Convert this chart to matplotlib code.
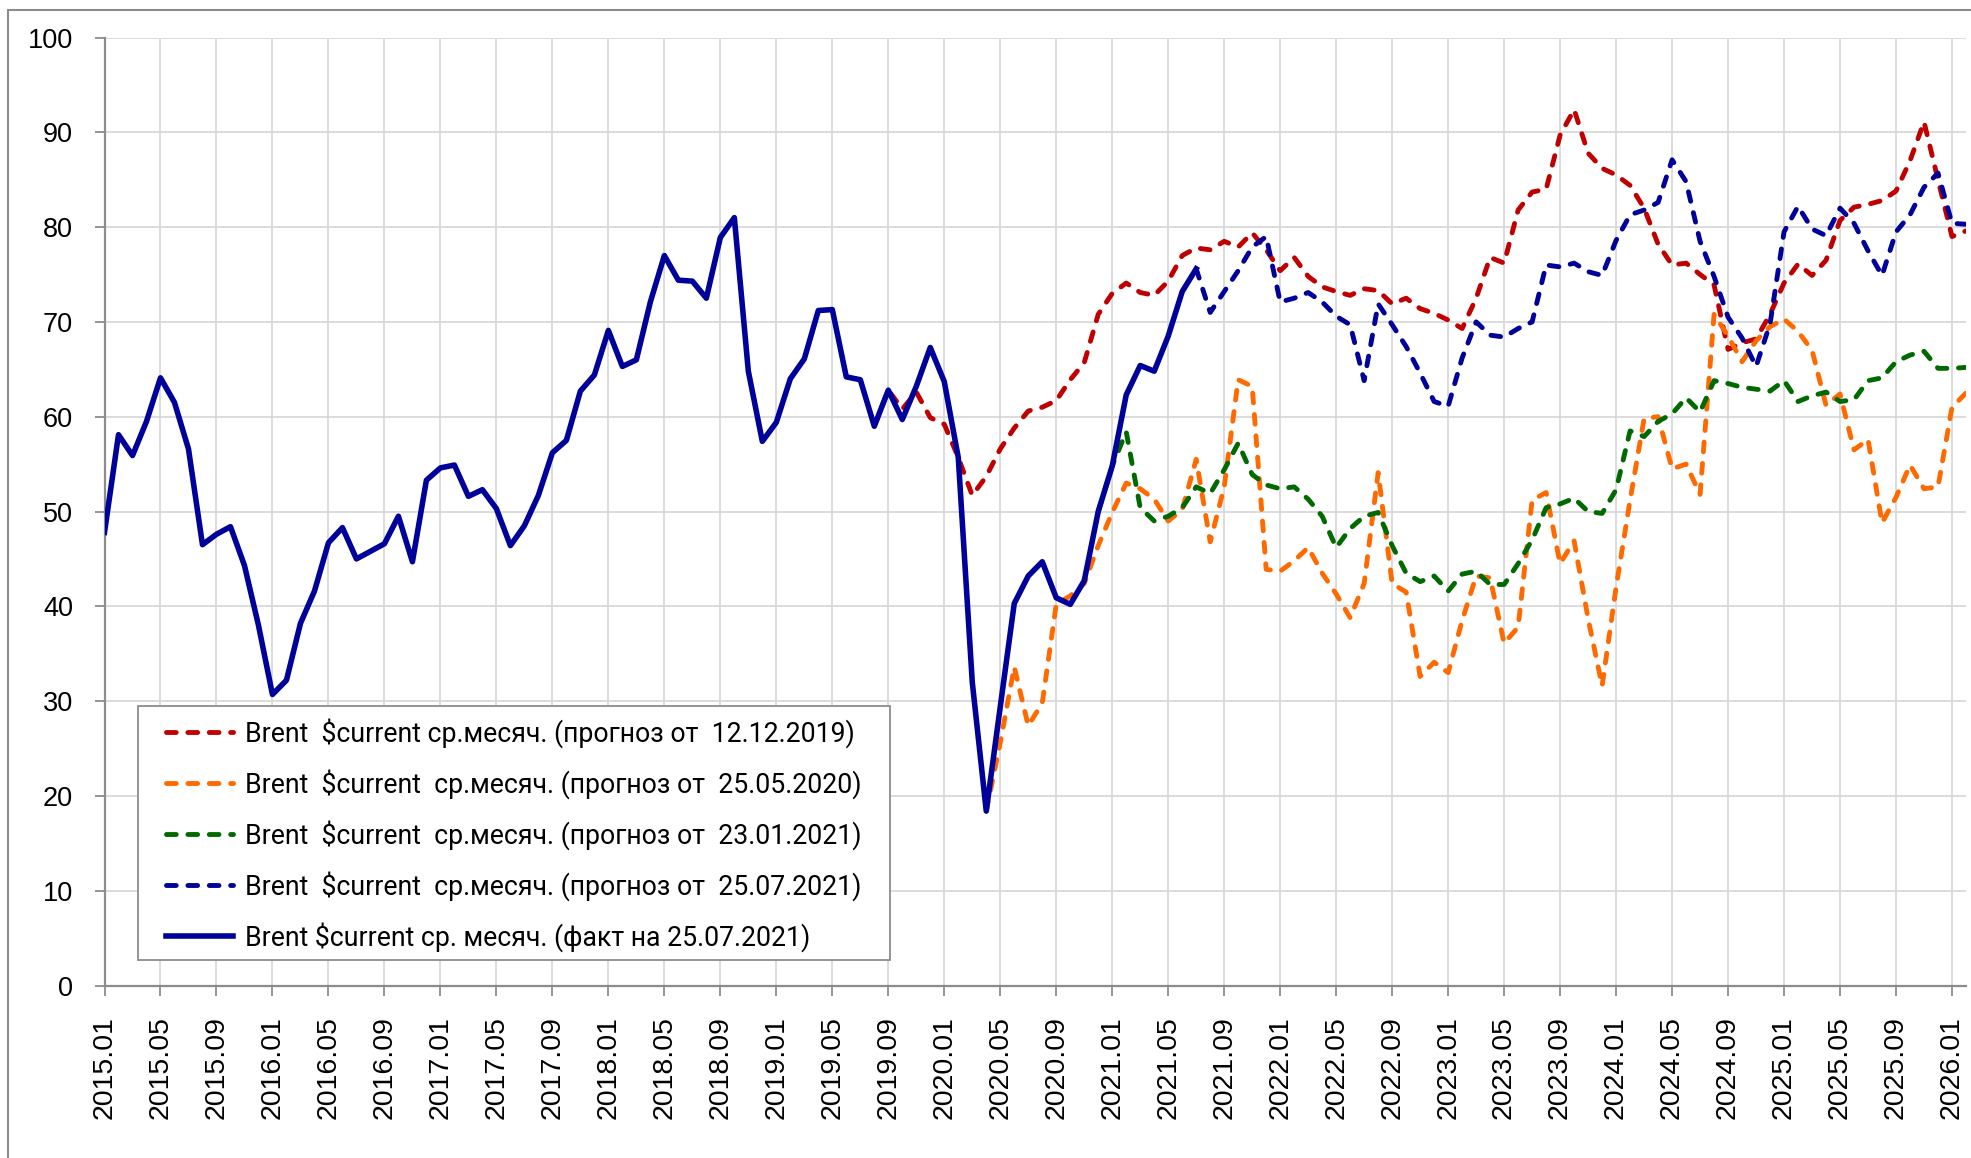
import matplotlib
matplotlib.use("Agg")
import matplotlib.pyplot as plt
from matplotlib.patches import Rectangle
from matplotlib.lines import Line2D

# ---------------- data ----------------
months = [f"{2015 + i // 12}.{i % 12 + 1:02d}" for i in range(134)]  # 2015.01 .. 2026.02

# Brent $current monthly average, fact (2015.01 - 2021.07)
fact = [47.8, 58.1, 55.9, 59.5, 64.1, 61.5, 56.6, 46.5, 47.6, 48.4, 44.3, 38.0,
        30.7, 32.2, 38.2, 41.6, 46.7, 48.3, 45.0, 45.8, 46.6, 49.5, 44.7, 53.3,
        54.6, 54.9, 51.6, 52.3, 50.3, 46.4, 48.5, 51.7, 56.2, 57.5, 62.7, 64.4,
        69.1, 65.3, 66.0, 72.1, 77.0, 74.4, 74.3, 72.5, 78.9, 81.0, 64.8, 57.4,
        59.4, 64.0, 66.1, 71.2, 71.3, 64.2, 63.9, 59.0, 62.8, 59.7, 63.2, 67.3,
        63.7, 55.7, 32.0, 18.4, 29.4, 40.3, 43.2, 44.7, 40.9, 40.2, 42.7, 50.0,
        54.8, 62.3, 65.4, 64.8, 68.5, 73.2, 75.6]
fact_start = "2015.01"

# forecast of 12.12.2019 (starts 2019.08)
fc_2019_start = "2019.08"
fc_2019 = [59.0, 62.8, 60.8, 62.6, 59.9, 59.2, 55.7, 51.7, 53.7, 56.6, 58.8, 60.6,
           61.0, 61.7, 63.9, 65.7, 70.8, 73.0, 74.1, 73.1, 72.8, 74.3, 77.0, 77.8,
           77.6, 78.5, 77.9, 79.4, 77.6, 75.4, 76.8, 74.8, 73.7, 73.2, 72.8, 73.5,
           73.3, 71.9, 72.5, 71.4, 70.9, 70.2, 69.3, 72.5, 76.8, 76.2, 81.8, 83.7,
           84.0, 89.7, 92.4, 87.8, 86.2, 85.5, 84.4, 82.0, 78.2, 76.0, 76.2, 75.0,
           73.9, 67.1, 67.8, 68.2, 70.8, 74.1, 76.1, 74.9, 76.5, 80.7, 82.1, 82.4,
           82.8, 83.8, 87.0, 91.1, 85.0, 79.0, 79.6]

# forecast of 25.05.2020 (starts 2020.04)
fc_2020_start = "2020.04"
fc_2020 = [18.4, 25.6, 33.6, 27.4, 29.8, 40.2, 41.1, 42.4, 46.4, 49.9, 53.0, 52.4,
           51.3, 49.0, 50.2, 55.5, 46.8, 52.6, 63.9, 63.2, 43.9, 43.7, 44.8, 46.2,
           43.5, 41.3, 38.8, 42.4, 54.1, 42.4, 41.5, 32.6, 34.1, 33.0, 38.5, 43.2,
           43.0, 36.1, 37.8, 51.2, 52.0, 44.5, 46.9, 38.7, 31.6, 42.0, 51.2, 59.8,
           60.0, 54.5, 55.0, 51.8, 70.8, 68.5, 65.8, 68.0, 69.5, 70.3, 69.0, 67.0,
           61.2, 62.4, 56.5, 57.6, 48.8, 51.5, 54.9, 52.4, 52.6, 61.0, 62.5]

# forecast of 23.01.2021 (starts 2020.12)
fc_2021a_start = "2020.12"
fc_2021a = [50.0, 54.8, 58.4, 50.4, 49.0, 49.5, 50.4, 52.6, 51.9, 54.4, 57.2, 53.9,
            52.8, 52.4, 52.6, 51.3, 49.5, 46.2, 48.2, 49.5, 49.9, 46.4, 43.5, 42.6,
            43.2, 41.6, 43.4, 43.7, 42.3, 42.3, 44.5, 47.0, 50.4, 50.8, 51.4, 50.0,
            49.8, 52.3, 58.5, 57.9, 59.5, 60.3, 62.0, 60.5, 63.8, 63.5, 63.1, 62.9,
            62.7, 63.8, 61.6, 62.2, 62.6, 61.6, 61.8, 63.8, 64.1, 65.8, 66.5, 66.9,
            65.1, 65.1, 65.2]

# forecast of 25.07.2021 (starts 2021.07)
fc_2021b_start = "2021.07"
fc_2021b = [75.6, 71.0, 73.2, 75.4, 77.9, 79.0, 72.1, 72.5, 73.1, 72.1, 70.6, 69.7,
            63.8, 71.9, 69.7, 67.4, 64.6, 61.6, 61.1, 66.2, 70.0, 68.6, 68.4, 69.3,
            70.0, 76.0, 75.8, 76.2, 75.3, 74.9, 78.6, 81.3, 81.8, 82.6, 87.1, 84.8,
            78.5, 74.8, 70.5, 68.3, 65.3, 69.8, 79.5, 82.2, 79.8, 79.1, 82.0, 80.4,
            77.5, 74.9, 79.5, 81.3, 84.2, 85.7, 80.4, 80.3]

labels = [
    "Brent  \\$current ср.месяч. (прогноз от  12.12.2019)",
    "Brent  \\$current  ср.месяч. (прогноз от  25.05.2020)",
    "Brent  \\$current  ср.месяч. (прогноз от  23.01.2021)",
    "Brent  \\$current  ср.месяч. (прогноз от  25.07.2021)",
    "Brent \\$current ср. месяч. (факт на 25.07.2021)",
]
colors = ["#C00000", "#FF6A00", "#006A00", "#00009A", "#00009A"]

tick_labels = months[0:133:4]

# ---------------- figure ----------------
W, H = 1971, 1158
fig = plt.figure(figsize=(W / 100, H / 100), dpi=100)
fig.patch.set_facecolor("white")

# outer chart border
fig.patches.append(Rectangle((8 / W, -0.05), 1.2, 1 - 10 / H + 0.05,
                             transform=fig.transFigure, fill=False,
                             edgecolor="#8C8C8C", linewidth=1.5, zorder=0))

x0, x1 = 104.5, 1966
y0, y1 = 985.5, 37.5
ax = fig.add_axes([x0 / W, 1 - y0 / H, (x1 - x0) / W, (y0 - y1) / H])


def xs(start, n):
    i0 = months.index(start)
    return list(range(i0, i0 + n))


dash_kw = dict(linestyle=(0, (2.0, 2.4)), dash_capstyle="round",
               solid_capstyle="round", linewidth=3.5)

series = [(fc_2019_start, fc_2019), (fc_2020_start, fc_2020),
          (fc_2021a_start, fc_2021a), (fc_2021b_start, fc_2021b)]
for (st, vals), c in zip(series, colors[:4]):
    ax.plot(xs(st, len(vals)), vals, color=c, zorder=3, **dash_kw)

ax.plot(xs(fact_start, len(fact)), fact, color=colors[4], linewidth=4.0,
        solid_joinstyle="round", zorder=4)

ax.set_xlim(0, 133)
ax.set_ylim(0, 100)
ax.set_xticks(range(0, 133, 4))
ax.set_xticklabels(tick_labels, rotation=90, fontsize=20.5,
                   family=["Liberation Sans", "DejaVu Sans"])
ax.set_yticks(range(0, 101, 10))
ax.set_yticklabels([str(v) for v in range(0, 101, 10)], fontsize=19.5,
                   family=["Liberation Sans", "DejaVu Sans"])
ax.tick_params(axis="x", length=7.2, width=1.3, color="#8C8C8C", pad=15)
ax.tick_params(axis="y", length=7.2, width=1.3, color="#8C8C8C", pad=15.5)

ax.grid(True, color="#D9D9D9", linewidth=1.3, zorder=0)
ax.set_axisbelow(True)
for s in ["top", "right"]:
    ax.spines[s].set_visible(False)
for s in ["left", "bottom"]:
    ax.spines[s].set_color("#8C8C8C")
    ax.spines[s].set_linewidth(1.6)

# legend box (drawn manually) and entries
lx0, lx1, ly0, ly1 = 138, 890, 705.5, 960
fig.patches.append(Rectangle((lx0 / W, 1 - ly1 / H), (lx1 - lx0) / W, (ly1 - ly0) / H,
                             transform=fig.transFigure, facecolor="white",
                             edgecolor="#8C8C8C", linewidth=1.3, zorder=5))
handles = [Line2D([], [], color=c, **dash_kw) for c in colors[:4]]
handles.append(Line2D([], [], color=colors[4], linewidth=4.0))
leg = fig.legend(handles, labels, loc="upper left",
                 bbox_to_anchor=(166 / W, 1 - 718 / H), frameon=False,
                 borderpad=0, borderaxespad=0, handlelength=2.5,
                 handletextpad=0.45, labelspacing=0.79,
                 prop={"family": ["Roboto", "DejaVu Sans"], "size": 19.2})
leg.set_zorder(6)

fig.savefig("out.png", dpi=100, facecolor="white")
